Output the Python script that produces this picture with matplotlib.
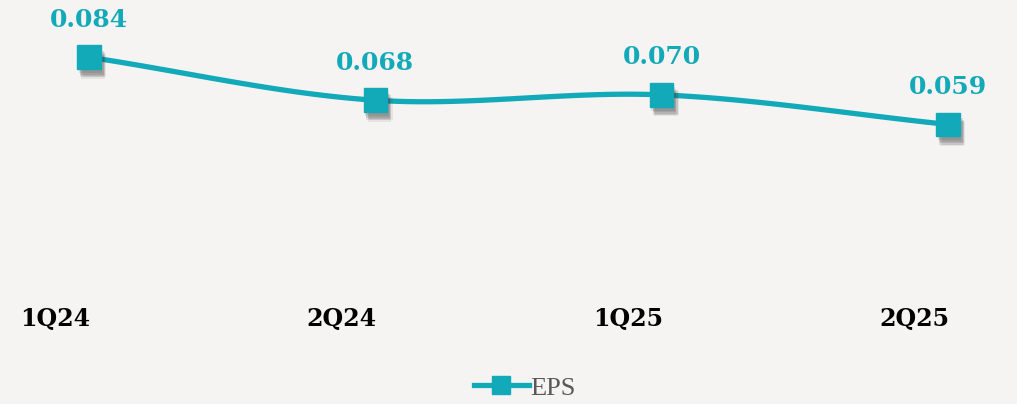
import numpy as np
import matplotlib
matplotlib.use("Agg")
import matplotlib.pyplot as plt
import matplotlib.patheffects as pe
from matplotlib.transforms import ScaledTranslation
from matplotlib.lines import Line2D

# data
quarters = ["1Q24", "2Q24", "1Q25", "2Q25"]
eps = [0.084, 0.068, 0.070, 0.059]

teal = "#12a9b8"
bg = "#f5f4f2"


def smooth(xs, ys, n=40):
    # catmull-rom style smoothing, like the office "smoothed line" option
    px = np.r_[2 * xs[0] - xs[1], xs, 2 * xs[-1] - xs[-2]]
    py = np.r_[2 * ys[0] - ys[1], ys, 2 * ys[-1] - ys[-2]]
    ox, oy = [], []
    for i in range(1, len(px) - 2):
        t = np.linspace(0, 1, n)
        for arr, out in ((px, ox), (py, oy)):
            p0, p1, p2, p3 = arr[i - 1], arr[i], arr[i + 1], arr[i + 2]
            out.extend(0.5 * (2 * p1 + (-p0 + p2) * t
                              + (2 * p0 - 5 * p1 + 4 * p2 - p3) * t ** 2
                              + (-p0 + 3 * p1 - 3 * p2 + p3) * t ** 3))
    return np.array(ox), np.array(oy)


x = np.arange(len(quarters), dtype=float)
y = np.array(eps)

fig = plt.figure(figsize=(10.17, 4.04), dpi=100, facecolor=bg)
ax = fig.add_axes([0, 0.2995, 1, 0.7005])
ax.set_facecolor(bg)

sx, sy = smooth(x, y)
ax.plot(sx, sy, color=teal, lw=3.8, solid_capstyle="round", zorder=2)

# soft drop shadow under the markers
shadow = []
for dx, dy, a in [(1, -3, 0.12), (2, -4, 0.12), (3, -5, 0.12), (2, -6, 0.1), (3, -7, 0.08), (4, -6, 0.08)]:
    shadow.append(pe.SimplePatchShadow(offset=(dx, dy), shadow_rgbFace="#333333", alpha=a))
ax.plot(x, y, ls="none", marker="s", ms=17, color=teal, mec=teal, zorder=3,
        path_effects=shadow + [pe.Normal()])

for xi, yi in zip(x, y):
    ax.annotate(f"{yi:.3f}", (xi, yi), xytext=(0, 27), textcoords="offset points",
                ha="center", va="center", color=teal, fontsize=18,
                fontweight="bold", family="DejaVu Serif")

ax.set_xlim(-0.311, 3.241)
ax.set_ylim(0, 0.1053)
for s in ax.spines.values():
    s.set_visible(False)
ax.set_yticks([])
ax.set_xticks(x)
ax.set_xticklabels(quarters, fontsize=17, fontweight="bold", family="DejaVu Serif", color="black")
ax.tick_params(axis="x", length=0, pad=17)
off = ScaledTranslation(-34 / 100, 0, fig.dpi_scale_trans)
for lab in ax.get_xticklabels():
    lab.set_transform(lab.get_transform() + off)

handle = Line2D([], [], color=teal, lw=3.8, marker="s", ms=13)
fig.legend([handle], ["EPS"], loc="center", bbox_to_anchor=(0.516, 0.04), frameon=False,
           prop={"family": "Liberation Serif", "size": 19}, labelcolor="#595959",
           handlelength=2.1, handletextpad=0.05)

fig.savefig("out.png", dpi=100, facecolor=bg)
